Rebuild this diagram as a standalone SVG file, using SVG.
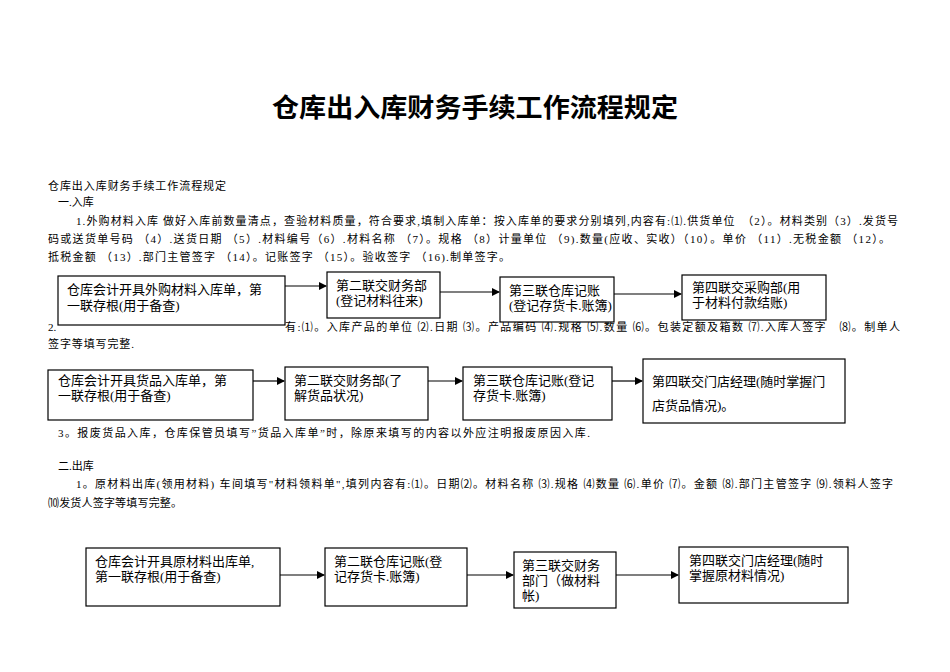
<svg xmlns="http://www.w3.org/2000/svg" width="950" height="672" viewBox="0 0 950 672">
<style>
text{font-family:"Liberation Serif","Noto Sans CJK SC",serif;fill:#000}
.t{font-size:26px;font-weight:bold;font-family:"Noto Sans CJK SC",sans-serif}
.p{font-size:11px}
.b{font-size:13px}
rect{fill:#fff;stroke:#000;stroke-width:1.2}
.c line{stroke:#000;stroke-width:1.2;marker-end:url(#a)}
</style>
<defs><marker id="a" markerWidth="8" markerHeight="8" refX="7" refY="4" orient="auto" markerUnits="userSpaceOnUse"><path d="M0,0L8,4L0,8z"/></marker></defs>
<rect x="0" y="0" width="950" height="672" style="stroke:none"/>
<text class="t" x="272" y="117" textLength="406" lengthAdjust="spacingAndGlyphs">仓库出入库财务手续工作流程规定</text>
<text class="p" x="48" y="190" textLength="178">仓库出入库财务手续工作流程规定</text>
<text class="p" x="58" y="206">一.入库</text>
<text class="p" x="76" y="225" textLength="822">1.外购材料入库 做好入库前数量清点，查验材料质量，符合要求,填制入库单：按入库单的要求分别填列,内容有:⑴.供货单位　（2）。材料类别（3）.发货号</text>
<text class="p" x="48" y="243" textLength="842">码或送货单号码 （4）.送货日期 （5）.材料编号（6）.材料名称 （7）。规格 （8）计量单位 （9).数量(应收、实收）（10）。单价 （11）.无税金额 （12）。</text>
<text class="p" x="48" y="261" textLength="462">抵税金额 （13）.部门主管签字 （14）。记账签字 （15）。验收签字 （16).制单签字。</text>
<text class="p" x="48" y="331">2.</text>
<text class="p" x="285" y="331" textLength="615">有:⑴。入库产品的单位 ⑵.日期 ⑶。产品编码 ⑷.规格 ⑸.数量 ⑹。包装定额及箱数 ⑺.入库人签字　⑻。制单人</text>
<text class="p" x="48" y="348" textLength="86">签字等填写完整.</text>
<text class="p" x="58" y="437" textLength="532">3。报废货品入库，仓库保管员填写”货品入库单”时，除原来填写的内容以外应注明报废原因入库.</text>
<text class="p" x="58" y="470">二.出库</text>
<text class="p" x="76" y="488" textLength="817">1。原材料出库(领用材料) 车间填写"材料领料单",填列内容有:⑴。日期⑵。材料名称 ⑶.规格 ⑷数量 ⑹.单价 ⑺。金额 ⑻.部门主管签字 ⑼.领料人签字</text>
<text class="p" x="48" y="507" textLength="134">⑽发货人签字等填写完整。</text>
<g class="c">
<line x1="285" y1="286" x2="326" y2="286"/><line x1="440" y1="292" x2="499" y2="292"/><line x1="614" y1="294" x2="681" y2="294"/>
<line x1="253" y1="381" x2="284" y2="381"/><line x1="428" y1="381" x2="462" y2="381"/><line x1="612" y1="381" x2="642" y2="381"/>
<line x1="280" y1="575" x2="324" y2="575"/><line x1="467" y1="575" x2="513" y2="575"/><line x1="616" y1="575" x2="678" y2="575"/>
</g>
<g id="n1"><rect x="58" y="276" width="227" height="49"/><text class="b" x="67" y="294">仓库会计开具外购材料入库单，第</text><text class="b" x="67" y="310">一联存根(用于备查)</text></g>
<g id="n2"><rect x="327" y="272" width="113" height="46"/><text class="b" x="336" y="290">第二联交财务部</text><text class="b" x="336" y="305">(登记材料往来)</text></g>
<g id="n3"><rect x="500" y="277" width="114" height="45"/><text class="b" x="509" y="295">第三联仓库记账</text><text class="b" x="509" y="310">(登记存货卡.账簿)</text></g>
<g id="n4"><rect x="682" y="275" width="144" height="45"/><text class="b" x="692" y="292">第四联交采购部(用</text><text class="b" x="692" y="307">于材料付款结账)</text></g>
<g id="n5"><rect x="48" y="370" width="205" height="50"/><text class="b" x="58" y="385">仓库会计开具货品入库单，第</text><text class="b" x="58" y="400">一联存根(用于备查)</text></g>
<g id="n6"><rect x="285" y="367" width="143" height="53"/><text class="b" x="294" y="385">第二联交财务部(了</text><text class="b" x="294" y="400">解货品状况)</text></g>
<g id="n7"><rect x="463" y="367" width="149" height="53"/><text class="b" x="473" y="385">第三联仓库记账(登记</text><text class="b" x="473" y="400">存货卡.账簿)</text></g>
<g id="n8"><rect x="643" y="359" width="202" height="64"/><text class="b" x="652" y="386">第四联交门店经理(随时掌握门</text><text class="b" x="652" y="410">店货品情况)。</text></g>
<g id="n9"><rect x="86" y="548" width="194" height="58"/><text class="b" x="95" y="566">仓库会计开具原材料出库单,</text><text class="b" x="95" y="581">第一联存根(用于备查)</text></g>
<g id="n10"><rect x="325" y="548" width="142" height="58"/><text class="b" x="334" y="566">第二联仓库记账(登</text><text class="b" x="334" y="581">记存货卡.账簿)</text></g>
<g id="n11"><rect x="514" y="552" width="102" height="56"/><text class="b" x="522" y="570">第三联交财务</text><text class="b" x="522" y="585">部门（做材料</text><text class="b" x="522" y="600">帐)</text></g>
<g id="n12"><rect x="679" y="547" width="169" height="56"/><text class="b" x="689" y="565">第四联交门店经理(随时</text><text class="b" x="689" y="580">掌握原材料情况)</text></g>
</svg>
